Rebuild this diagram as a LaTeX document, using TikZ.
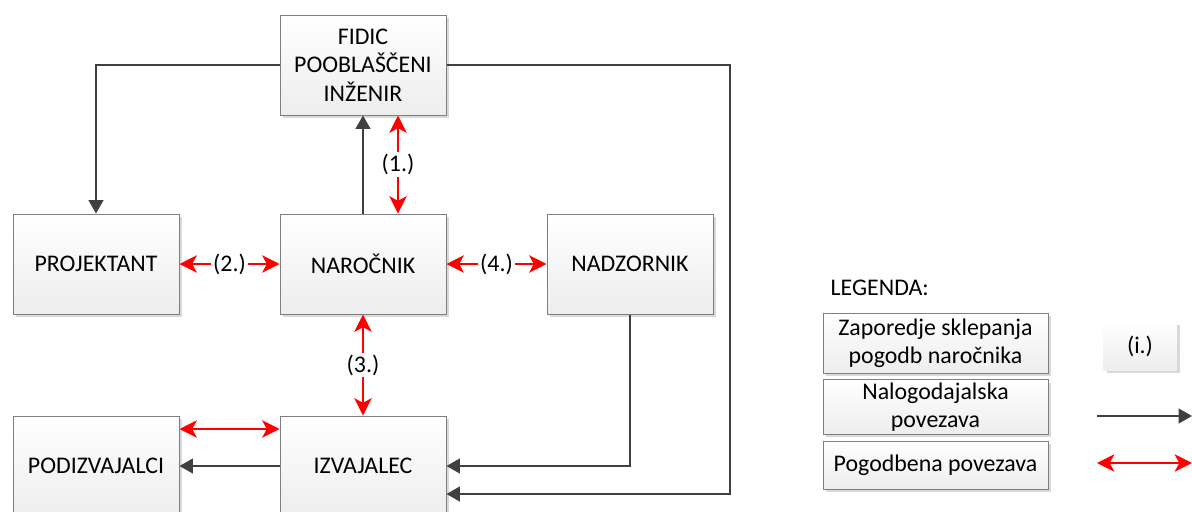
\documentclass[tikz,border=0pt]{standalone}
\usepackage{fontspec}
\setmainfont{Carlito}
\usetikzlibrary{arrows.meta,shadows,calc}
\definecolor{lnc}{HTML}{404040}
\definecolor{bdc}{HTML}{7F7F7F}
\definecolor{shc}{HTML}{D9D9D9}
\tikzset{
  box/.style={draw=bdc, line width=0.75pt, top color=white, bottom color=black!7,
    general shadow={fill=shc, shadow xshift=2.5pt, shadow yshift=-2.5pt},
    minimum width=124.5pt, minimum height=75pt, align=center, inner sep=2pt},
  lbox/.style={box, minimum width=168.75pt},
  ibox/.style={top color=white, bottom color=black!7,
    general shadow={fill=shc, shadow xshift=2.5pt, shadow yshift=-2.5pt},
    minimum width=54.75pt, minimum height=36pt, inner sep=0pt},
  blk/.style={draw=lnc, line width=1.6pt, -{Triangle[length=10pt,width=11pt]}},
  rdd/.style={draw=red, line width=1.5pt,
    {Stealth[length=13pt,width=13pt,inset=3.5pt]}-{Stealth[length=13pt,width=13pt,inset=3.5pt]}},
  lbl/.style={fill=white, inner sep=1.5pt},
}
\begin{document}
\begin{tikzpicture}[x=0.75pt, y=-0.75pt, font=\fontsize{17.9pt}{21.3pt}\selectfont]
\useasboundingbox (0,0) rectangle (1192,511);
\clip (0,0) rectangle (1192,511);

% organisation chart
\node[box] (fidic) at (363,65) {FIDIC\\POOBLAŠČENI\\INŽENIR};
\node[box] (proj)  at (96,264) {PROJEKTANT};
\node[box] (nar)   at (363,264) {NAROČNIK};
\node[box] (nadz)  at (630,264) {NADZORNIK};
\node[box] (podiz) at (96,466) {PODIZVAJALCI};
\node[box] (izv)   at (363,466) {IZVAJALEC};

% bend points
\coordinate (fr) at (730,494);
\coordinate (ry) at (0,429);

% mandate relations
\draw[blk] (fidic.west) -| (proj.north);
\draw[blk] (fidic.east) -| (fr) -- (fr -| izv.east);
\draw[blk] (nar.north) -- (fidic.south);
\draw[blk] (nadz.south) |- (izv.east);
\draw[blk] (izv.west) -- (podiz.east);

% contract relations
\draw[rdd] ($(fidic.south)+(35,0)$) -- ($(nar.north)+(35,0)$) node[midway, lbl] {(1.)};
\draw[rdd] (proj.east) -- (nar.west) node[midway, lbl] {(2.)};
\draw[rdd] (nar.south) -- (izv.north) node[midway, lbl] {(3.)};
\draw[rdd] (nar.east) -- (nadz.west) node[midway, lbl] {(4.)};
\draw[rdd] (podiz.east |- ry) -- (izv.west |- ry);

% legend
\node[anchor=west] (leg) at (826,288) {LEGENDA:};
\node[lbox, minimum height=45pt] (l1) at (935.5,343) {Zaporedje sklepanja\\pogodb naročnika};
\node[lbox, minimum height=37.5pt] (l2) at (935.5,407) {Nalogodajalska\\povezava};
\node[lbox, minimum height=36pt] (l3) at (935.5,465) {Pogodbena povezava};
\node[ibox] (li) at (1140,346) {(i.)};
\coordinate (a1) at (1097,416);
\coordinate (a2) at (1192,416);
\coordinate (b1) at (1097,463);
\coordinate (b2) at (1192,463);
\draw[blk] (a1) -- (a2);
\draw[rdd] (b1) -- (b2);
\end{tikzpicture}
\end{document}
